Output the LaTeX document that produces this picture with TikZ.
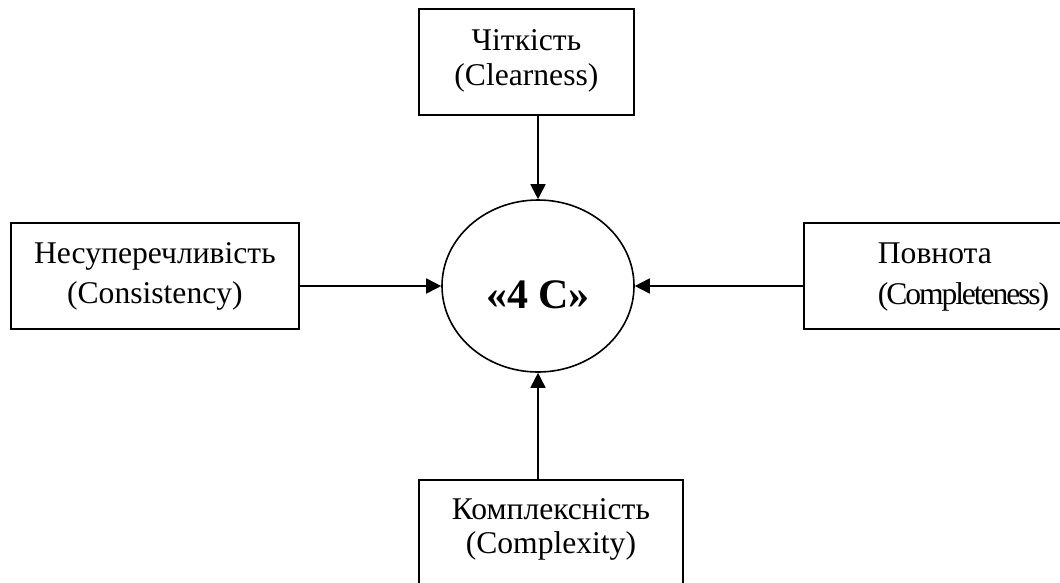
\documentclass[tikz,border=0pt]{standalone}
\usepackage{fontspec}
\setmainfont{Liberation Serif}
\usetikzlibrary{shapes.geometric,arrows.meta}

% one unit = 1pt, y grows downwards
\tikzset{
  x=1pt, y=-1pt,
  box/.style={draw, rectangle, line width=1.8pt, inner sep=0pt, anchor=north west},
  hub/.style={draw, ellipse, line width=1.6pt, minimum width=192pt, minimum height=172pt,
              inner sep=0pt, font=\fontsize{42}{48}\selectfont\bfseries,
              text height=44pt, text depth=0pt},
  arr/.style={line width=1.8pt, -{Triangle[length=15pt,width=15pt]}},
}

\begin{document}
\begin{tikzpicture}
\useasboundingbox (0,0) rectangle (1060,582);
\clip (0,0) rectangle (1060,582);
\fill[white] (0,0) rectangle (1060,582);

% centre
\node[hub] (hub) at (538,286) {«4~C»};

% the four criteria
\node[box] (clear) at (418,8) {\parbox[t][106pt][t]{215pt}{\centering
  \fontsize{31.6}{35}\selectfont\rule{0pt}{42pt}Чіткість\\(Clearness)}};

\node[box] (consist) at (10,222) {\parbox[t][106pt][t]{288pt}{\centering
  \fontsize{31.6}{40}\selectfont\rule{0pt}{41pt}Несуперечливість\\(Consistency)}};

\node[box] (complete) at (803,222) {\parbox[t][106pt][t]{317pt}{\raggedright\leftskip=74pt
  \fontsize{31.6}{41}\selectfont\rule{0pt}{41pt}Повнота\\{\addfontfeature{LetterSpace=-6.6}(Completeness)}}};

\node[box] (complex) at (418,479) {\parbox[t][140pt][t]{264pt}{\centering
  \fontsize{31.6}{34}\selectfont\rule{0pt}{40pt}Комплексність\\(Complexity)}};

% connectors
\draw[arr] (hub.north |- clear.south) -- (hub.north);
\draw[arr] (hub.south |- complex.north) -- (hub.south);
\draw[arr] (consist.east |- hub.west) -- (hub.west);
\draw[arr] (complete.west |- hub.east) -- (hub.east);
\end{tikzpicture}
\end{document}
